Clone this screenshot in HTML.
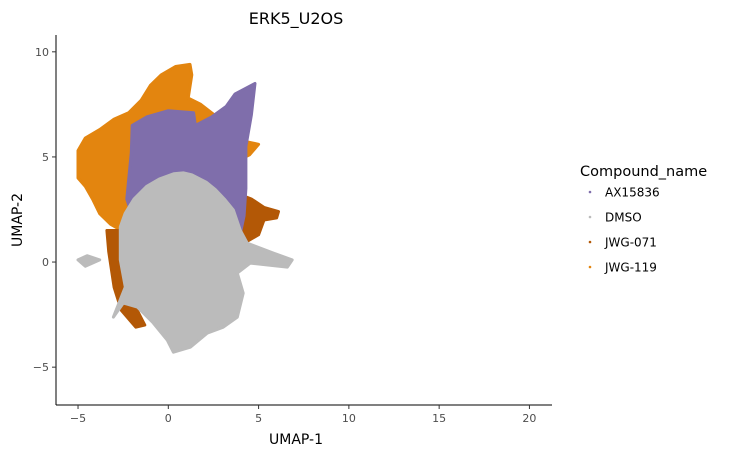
<!DOCTYPE html>
<html><head><meta charset="utf-8"><style>
html,body{margin:0;padding:0;background:#fff;}
svg{display:block;font-family:"DejaVu Sans","Liberation Sans",sans-serif;}
</style></head><body>
<svg id="chart" width="740" height="456" viewBox="0 0 740 456">
<text x="296" y="24" text-anchor="middle" font-size="16" fill="#000">ERK5_U2OS</text>
<g id="clusters"></g>
<g id="axes"></g>
<text x="296" y="444" text-anchor="middle" font-size="14" fill="#000">UMAP-1</text>
<text x="22" y="220" text-anchor="middle" font-size="14" fill="#000" transform="rotate(-90 22 220)">UMAP-2</text>
<g id="legend">
<text x="580" y="176" font-size="14.5" fill="#000">Compound_name</text>
</g>
</svg>
<script>
const xTicks=[-5,0,5,10,15,20];
const yTicks=[-5,0,5,10];
const xDomain=[-6.22,21.25];
const yDomain=[-6.8,10.8];
const seriesNames=["JWG-119","JWG-071","JWG-071","AX15836","DMSO","DMSO"];
const legendNames=["AX15836","DMSO","JWG-071","JWG-119"];
const jwg119Outline=[[-5.0,5.3],[-4.6,5.9],[-3.8,6.3],[-3.0,6.8],[-2.2,7.1],[-1.5,7.7],[-1.0,8.4],[-0.4,8.9],[0.4,9.3],[1.2,9.4],[1.3,8.9],[1.1,7.8],[1.8,7.5],[2.7,6.9],[3.4,6.6],[3.9,5.8],[5.0,5.6],[4.5,5.1],[3.8,4.8],[2.0,4.0],[-2.2,2.5],[-2.6,1.5],[-3.2,1.8],[-3.8,2.3],[-4.2,3.0],[-4.6,3.6],[-5.0,4.0]];
const jwg071Left=[[-3.4,1.5],[-2.6,1.5],[-2.4,0],[-1.9,-2.0],[-1.3,-3.0],[-1.8,-3.1],[-2.6,-2.3],[-3.0,-1.2],[-3.3,0.5]];
const jwg071Right=[[4.0,3.2],[4.6,3.0],[5.3,2.6],[6.1,2.4],[6.0,2.1],[5.3,2.0],[5.0,1.3],[4.2,0.9],[3.6,1.1],[3.8,2.0]];
const ax15836Outline=[[-2.3,3.0],[-2.05,5.2],[-2.0,6.5],[-1.2,6.9],[0,7.2],[1.4,7.1],[1.5,6.5],[2.4,6.9],[3.2,7.4],[3.7,8.0],[4.8,8.5],[4.6,7.0],[4.3,5.5],[4.3,3.5],[4.2,2.2],[3.9,1.0],[2.0,2.0],[-2.0,2.2]];
const dmsoMain=[[0.3,4.2],[0.83,4.24],[1.3,4.15],[2.1,3.8],[2.6,3.45],[3.1,3.0],[3.6,2.48],[3.98,1.52],[4.37,0.9],[5.81,0.43],[6.86,0.1],[6.59,-0.24],[4.54,-0.05],[3.82,-0.52],[4.15,-1.48],[3.82,-2.62],[3.04,-3.1],[2.16,-3.38],[1.22,-4.05],[0.28,-4.29],[-0.06,-3.71],[-0.83,-2.9],[-1.72,-2.14],[-2.49,-1.95],[-3.04,-2.62],[-2.38,-1.19],[-2.66,0.1],[-2.66,1.67],[-2.4,2.3],[-1.9,3.0],[-1.2,3.6],[-0.5,3.95]];
const dmsoArm=[[-5.0,0.1],[-4.5,0.3],[-3.8,0.1],[-4.6,-0.2]];
const colors={"AX15836":"#7F6EAB","DMSO":"#BBBBBB","JWG-071":"#B35806","JWG-119":"#E3850F"};
const L=56,R=552,T=35,B=405;
const sx=v=>L+(v-xDomain[0])/(xDomain[1]-xDomain[0])*(R-L);
const sy=v=>B-(v-yDomain[0])/(yDomain[1]-yDomain[0])*(B-T);
const NS="http://www.w3.org/2000/svg";
const mk=(t,a,p)=>{const e=document.createElementNS(NS,t);for(const k in a)e.setAttribute(k,a[k]);p.appendChild(e);return e;};
const cl=document.getElementById('clusters');
const shapes=[jwg119Outline,jwg071Left,jwg071Right,ax15836Outline,dmsoMain,dmsoArm];
shapes.forEach((s,i)=>{
  const p=mk('polygon',{points:s.map(d=>sx(d[0]).toFixed(1)+','+sy(d[1]).toFixed(1)).join(' '),fill:colors[seriesNames[i]],stroke:colors[seriesNames[i]],'stroke-width':3,'stroke-linejoin':'round'},cl);
  
  
});
const ax=document.getElementById('axes');
const xl=mk('line',{x1:L,y1:B,x2:R,y2:B,stroke:'#000','stroke-width':1},ax);


const yl=mk('line',{x1:L,y1:T,x2:L,y2:B,stroke:'#000','stroke-width':1},ax);


xTicks.forEach(v=>{
  const x=sx(v);
  const t=mk('line',{x1:x,y1:B,x2:x,y2:B+4,stroke:'#333'},ax);
  
  
  const l=mk('text',{x:x,y:B+17,'text-anchor':'middle','font-size':11,fill:'#4d4d4d'},ax);
  l.textContent=v<0?'\u2212'+Math.abs(v):v;
  
  
});
yTicks.forEach(v=>{
  const y=sy(v);
  const t=mk('line',{x1:L-4,y1:y,x2:L,y2:y,stroke:'#333'},ax);
  
  
  const l=mk('text',{x:L-7,y:y+4,'text-anchor':'end','font-size':11,fill:'#4d4d4d'},ax);
  l.textContent=v<0?'\u2212'+Math.abs(v):v;
  
  
});
const lg=document.getElementById('legend');
legendNames.forEach((n,i)=>{
  const y=192+i*25;
  const c=mk('circle',{cx:590,cy:y,r:1.3,fill:colors[n]},lg);
  
  
  const t=mk('text',{x:605,y:y+4.5,'font-size':12,fill:'#000'},lg);
  t.textContent=n;
  
  
});
</script>
</body></html>
